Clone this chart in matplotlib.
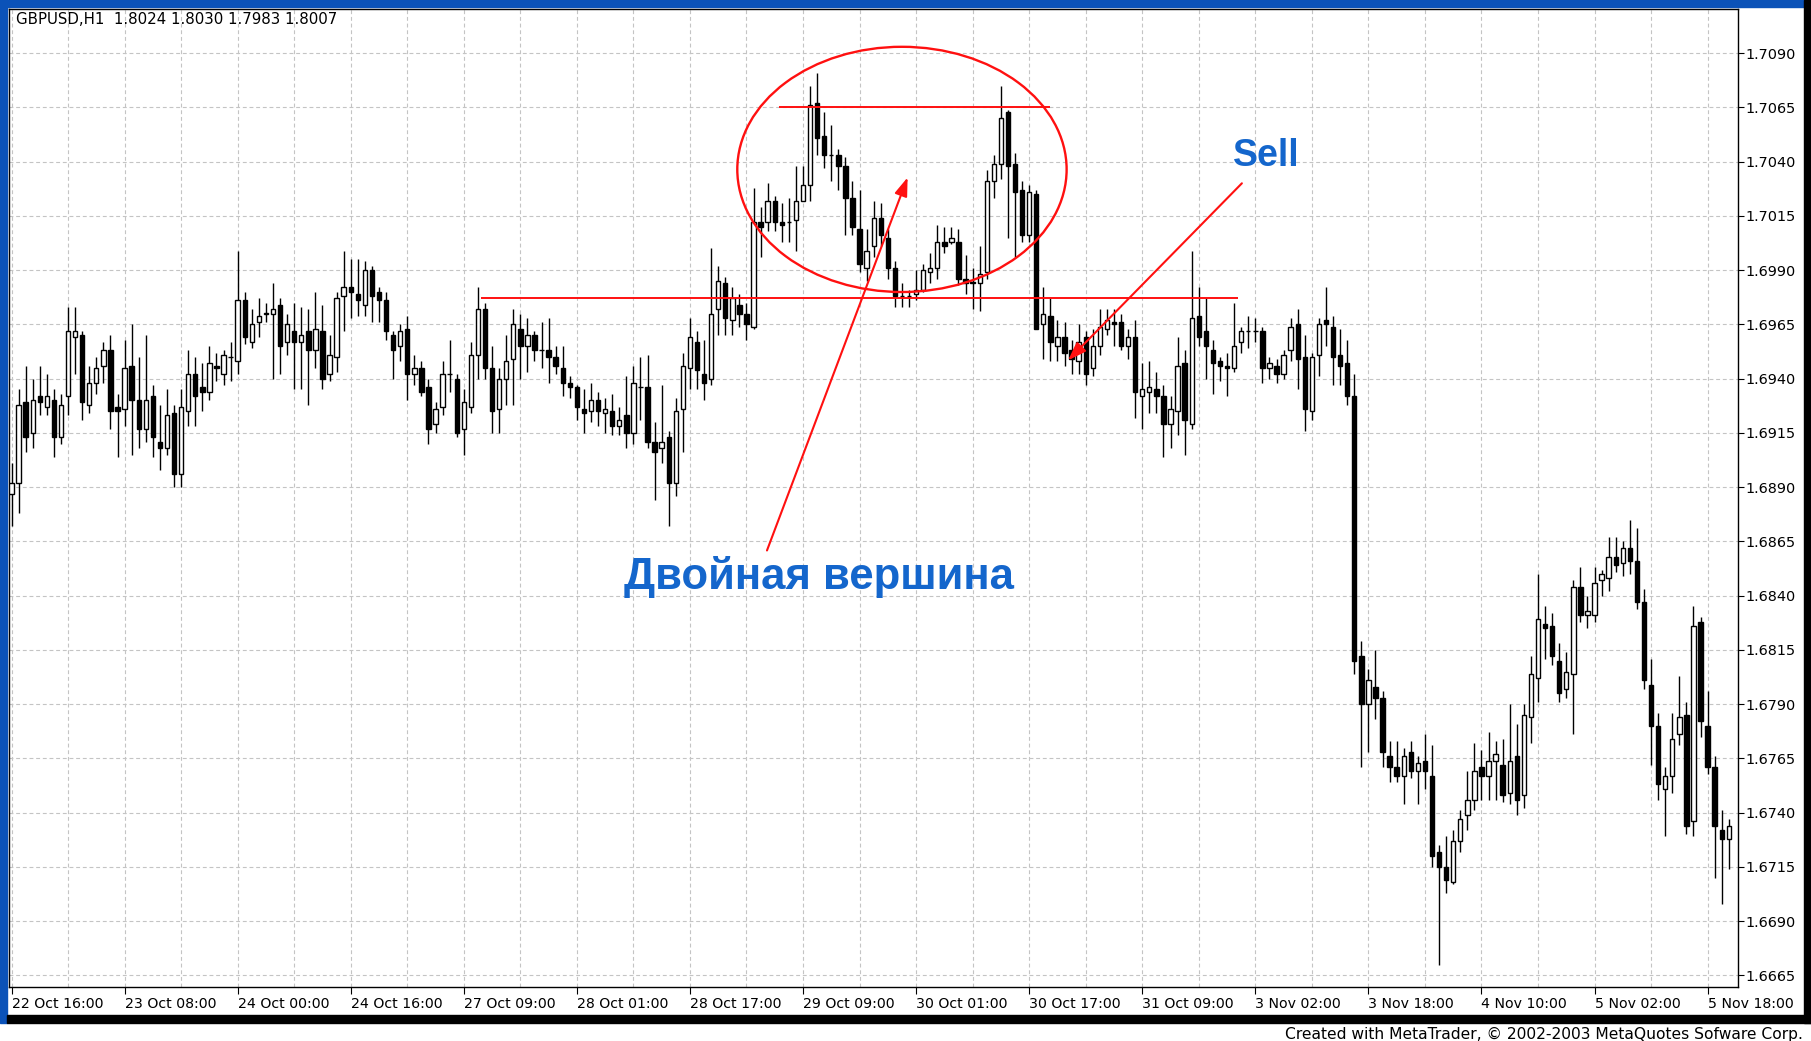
import numpy as np
import matplotlib
matplotlib.use("Agg")
import matplotlib.pyplot as plt
from matplotlib.patches import Ellipse, Rectangle

W, H = 1811, 1041

BASE = 1.6990
opens = [-103, -98, -61, -75, -58, -63, -60, -77, -58, -31,
         -30, -62, -52, -44, -37, -63, -64, -44, -60, -73,
         -58, -79, -82, -66, -94, -65, -48, -54, -56, -44,
         -48, -40, -42, -14, -33, -24, -20, -20, -16, -33,
         -28, -33, -28, -37, -28, -48, -40, -12, -8, -11,
         -16, 0, -10, -14, -30, -35, -27, -48, -45, -54,
         -71, -63, -48, -50, -73, -63, -39, -18, -45, -64,
         -50, -41, -27, -35, -30, -37, -37, -40, -45, -52,
         -54, -64, -65, -60, -66, -65, -72, -67, -75, -54,
         -54, -79, -82, -77, -98, -64, -45, -33, -48, -50,
         -18, -6, -23, -16, -20, -26, 22, 22, 32, 22,
         22, 23, 32, 39, 77, 62, 53, 53, 48, 33,
         19, 1, 11, 24, 15, 1, -12, -12, -11, -9,
         -1, 1, 13, 13, 13, -4, -5.5, -6, -1, 41,
         49, 73, 49, 37, 16, 35, -25, -21, -35, -31,
         -37, -42, -31, -45, -35, -27, -24, -24, -35, -31,
         -58, -56, -55, -58, -71, -65, -43, -71, -21, -28,
         -37, -42, -44, -45, -33, -28, -28, -28, -45, -44,
         -48, -37, -25, -40, -65, -39, -23, -26, -39, -43,
         -58, -178, -200, -192, -197, -224, -229, -233, -222, -231,
         -226, -233, -268, -275, -282, -263, -251, -244, -229, -233,
         -226, -228, -241, -224, -242, -206, -188, -163, -164, -180,
         -193, -186, -146, -159, -159, -143, -142, -132, -135, -128,
         -134, -153, -191, -210, -239, -233, -214, -205, -254, -162,
         -210, -229, -258, -262]
highs = [-89, -55, -44, -50, -44, -48, -55, -57, -17, -17,
         -28, -44, -40, -33, -30, -57, -32, -25, -40, -30,
         -53, -62, -55, -62, -55, -37, -40, -43, -35, -38,
         -37, -33, 9, -10, -18, -13, -15, -6, -13, -20,
         -15, -17, -18, -10, -16, -30, -10, 9, 5, 5,
         4, 2, -8, -10, -28, -25, -21, -39, -42, -50,
         -61, -42, -32, -48, -55, -33, -8, -15, -35, -45,
         -30, -18, -20, -22, -28, -24, -22, -35, -35, -49,
         -53, -55, -52, -56, -59, -57, -63, -49, -44, -40,
         -39, -70, -53, -74, -59, -38, -22, -28, -32, 10,
         2, -3, -8, -11, -15, 38, 29, 40, 34, 31,
         33, 48, 48, 85, 91, 73, 67, 56, 52, 41,
         37, 19, 32, 31, 19, 4, -6, -9, 0, 3,
         8, 21, 20, 20, 19, 7, 1, 11, 46, 53,
         85, 74, 54, 41, 39, 37, -8, -13, -23, -24,
         -32, -25, -28, -27, -18, -18, -18, -20, -27, -23,
         -43, -42, -47, -53, -58, -31, -37, 9, -8, -13,
         -32, -40, -38, -15, -26, -21, -22, -26, -40, -41,
         -37, -22, -18, -30, -38, -22, -8, -21, -27, -32,
         -48, -171, -184, -175, -194, -217, -217, -220, -217, -224,
         -214, -219, -265, -261, -258, -249, -231, -218, -221, -213,
         -217, -216, -200, -209, -200, -178, -140, -155, -158, -172,
         -176, -143, -137, -150, -137, -138, -123, -123, -125, -115,
         -119, -147, -179, -204, -229, -204, -187, -199, -155, -160,
         -194, -224, -249, -253]
lows = [-118, -112, -84, -82, -67, -67, -86, -80, -67, -48,
        -69, -66, -57, -52, -73, -86, -72, -85, -82, -79,
        -86, -92, -85, -100, -100, -72, -72, -65, -60, -51,
        -53, -51, -48, -34, -36, -31, -24, -50, -48, -39,
        -55, -55, -62, -45, -55, -51, -47, -28, -22, -21,
        -21, -24, -24, -32, -50, -42, -60, -53, -58, -80,
        -75, -67, -56, -77, -85, -66, -50, -50, -75, -75,
        -62, -62, -50, -47, -42, -45, -52, -48, -58, -59,
        -69, -75, -70, -72, -75, -76, -76, -82, -80, -69,
        -82, -106, -89, -118, -104, -84, -55, -55, -60, -53,
        -30, -30, -30, -26, -32, -27, 6, 18, 18, 13,
        13, 9, 32, 32, 53, 47, 41, 37, 16, 16,
        -1, -5, 6, 11, -4, -17, -17, -17, -14, -10,
        -6, -4, 8, 12, -7, -11, -18, -19, -4, 33,
        42, 15, 6, 13, 13, -27, -41, -42, -42, -44,
        -48, -48, -53, -49, -39, -30, -35, -37, -41, -68,
        -73, -66, -66, -86, -82, -76, -85, -73, -35, -50,
        -57, -51, -58, -47, -38, -36, -33, -52, -50, -52,
        -50, -42, -55, -74, -69, -49, -35, -53, -53, -62,
        -186, -229, -222, -207, -229, -236, -236, -246, -234, -246,
        -239, -275, -320, -287, -283, -268, -258, -249, -244, -244,
        -244, -245, -246, -251, -248, -218, -199, -179, -182, -199,
        -197, -214, -162, -165, -162, -150, -148, -139, -141, -140,
        -156, -193, -228, -244, -261, -241, -219, -260, -261, -215,
        -232, -280, -292, -276]
closes = [-98, -62, -77, -60, -61, -58, -77, -62, -28, -28,
          -61, -52, -45, -37, -65, -65, -45, -60, -73, -60,
          -77, -82, -67, -94, -63, -48, -58, -56, -43, -45,
          -39, -40, -14, -31, -25, -21, -20, -18, -35, -25,
          -33, -30, -37, -27, -50, -39, -13, -8, -10, -14,
          0, -12, -14, -28, -37, -28, -48, -45, -56, -73,
          -64, -48, -48, -75, -61, -39, -18, -45, -65, -50,
          -42, -25, -35, -30, -37, -37, -40, -44, -52, -54,
          -63, -66, -60, -65, -64, -72, -69, -75, -52, -54,
          -79, -84, -79, -98, -65, -44, -31, -46, -52, -20,
          -5, -22, -13, -20, -25, 22, 20, 32, 22, 21,
          22, 32, 39, 76, 61, 53, 53, 48, 33, 20,
          3, 9, 24, 16, 1, -12, -12, -12, -9, 0,
          1, 13, 11, 15, -4, -6, -6, -2, 41, 49,
          70, 48, 36, 16, 36, -27, -20, -33, -31, -38,
          -41, -33, -48, -35, -26, -23, -25, -35, -31, -56,
          -55, -54, -58, -71, -64, -44, -69, -22, -31, -35,
          -43, -44, -45, -35, -28, -28, -28, -45, -43, -48,
          -39, -26, -41, -64, -40, -25, -25, -40, -44, -58,
          -180, -200, -189, -197, -222, -229, -233, -224, -231, -227,
          -231, -270, -275, -281, -263, -253, -244, -231, -233, -226,
          -223, -242, -226, -244, -205, -186, -161, -165, -178, -195,
          -185, -146, -159, -157, -144, -140, -132, -136, -128, -134,
          -153, -189, -210, -237, -233, -216, -206, -256, -164, -208,
          -229, -256, -262, -256]

date_labels = ["22 Oct 16:00", "23 Oct 08:00", "24 Oct 00:00", "24 Oct 16:00",
               "27 Oct 09:00", "28 Oct 01:00", "28 Oct 17:00", "29 Oct 09:00",
               "30 Oct 01:00", "30 Oct 17:00", "31 Oct 09:00", "3 Nov 02:00",
               "3 Nov 18:00", "4 Nov 10:00", "5 Nov 02:00", "5 Nov 18:00"]
price_levels = [1.7090, 1.7065, 1.7040, 1.7015, 1.6990, 1.6965, 1.6940, 1.6915,
                1.6890, 1.6865, 1.6840, 1.6815, 1.6790, 1.6765, 1.6740, 1.6715,
                1.6690, 1.6665]

o = BASE + np.array(opens) / 1e4
h = BASE + np.array(highs) / 1e4
l = BASE + np.array(lows) / 1e4
c = BASE + np.array(closes) / 1e4
x = np.arange(len(o))

RED = "#ff1010"
BLUE = "#1466cc"

fig = plt.figure(figsize=(W / 100, H / 100), dpi=100, facecolor="white")

# window decoration (blue border, black bars)
fig.add_artist(Rectangle((0, 1 - 7 / H), 1, 7 / H, transform=fig.transFigure,
                         color="#0b52b8", zorder=0))
fig.add_artist(Rectangle((0, (H - 1023) / H), 7 / W, 1023 / H,
                         transform=fig.transFigure, color="#0b52b8", zorder=0))
fig.add_artist(Rectangle((1 - 7 / W, (H - 1023) / H), 7 / W, 1023 / H,
                         transform=fig.transFigure, color="black", zorder=0))
fig.add_artist(Rectangle((7 / W, (H - 1023) / H), 1 - 7 / W, 8 / H,
                         transform=fig.transFigure, color="black", zorder=0))

ax = fig.add_axes([9 / W, (H - 987) / H, (1738 - 9) / W, (987 - 8.5) / H])
ax.set_facecolor("white")

# candles
ax.vlines(x, l, h, color="black", lw=1.0, zorder=3)
bull = c >= o
bw = 0.62
body = np.maximum(np.abs(c - o), 0.000012)
ax.bar(x[bull], body[bull], bottom=np.minimum(o, c)[bull], width=bw,
       color="white", edgecolor="black", linewidth=1.0, zorder=4)
ax.bar(x[~bull], body[~bull], bottom=np.minimum(o, c)[~bull], width=bw,
       color="black", edgecolor="black", linewidth=1.0, zorder=4)

ax.set_xlim(-0.354, 244.3)
ax.set_ylim(1.665964, 1.711055)

# grid
ax.set_xticks(np.arange(0, 241, 16))
ax.set_xticklabels(date_labels, ha="left", fontsize=10.2)
ax.set_xticks(np.arange(8, 241, 16), minor=True)
ax.set_yticks(price_levels)
ax.set_yticklabels([f"{p:.4f}" for p in price_levels], fontsize=10.4)
ax.yaxis.tick_right()
ax.tick_params(axis="x", which="major", direction="out", length=5, width=0.8,
               pad=2, labelcolor="black")
ax.tick_params(axis="x", which="minor", length=0)
ax.tick_params(axis="y", direction="out", length=4, width=0.8, pad=1)
ax.grid(True, which="both", color="#c4c4c4", lw=0.8, ls=(0, (3.5, 2.5)), zorder=0)
for s in ax.spines.values():
    s.set_linewidth(1.0)
    s.set_color("black")

# double top annotation
ax.add_patch(Ellipse((126.0, 1.70364), 46.6, 0.0113, fill=False, edgecolor=RED,
                     lw=1.7, zorder=6))
ax.hlines(1.7065, 108.6, 147.0, color=RED, lw=1.4, zorder=6)
ax.hlines(1.69773, 66.4, 173.5, color=RED, lw=1.4, zorder=6)
arrow = dict(arrowstyle="-|>,head_length=0.8,head_width=0.28", color=RED, lw=1.5,
             mutation_scale=14, shrinkA=0, shrinkB=0)
ax.annotate("", xy=(126.8, 1.70327), xytext=(106.9, 1.68608), arrowprops=arrow,
            zorder=7)
ax.annotate("", xy=(149.5, 1.69484), xytext=(174.1, 1.70300), arrowprops=arrow,
            zorder=7)
ax.text(114.2, 1.68486, "Двойная вершина", color=BLUE, fontsize=31.5,
        fontweight="bold", family="Liberation Sans", ha="center", va="center",
        zorder=8)
ax.text(177.6, 1.70428, "Sell", color=BLUE, fontsize=27, fontweight="bold",
        family="Liberation Sans", ha="center", va="center", zorder=8)

# header and footer text
fig.text(16 / W, 1 - 20 / H, "GBPUSD,H1  1.8024 1.8030 1.7983 1.8007",
         fontsize=10.8, va="center", ha="left")
fig.text(1803 / W, 1 - 1034 / H,
         "Created with MetaTrader, © 2002-2003 MetaQuotes Sofware Corp.",
         fontsize=11.2, va="center", ha="right")

fig.savefig("out.png", dpi=100, facecolor="white")
